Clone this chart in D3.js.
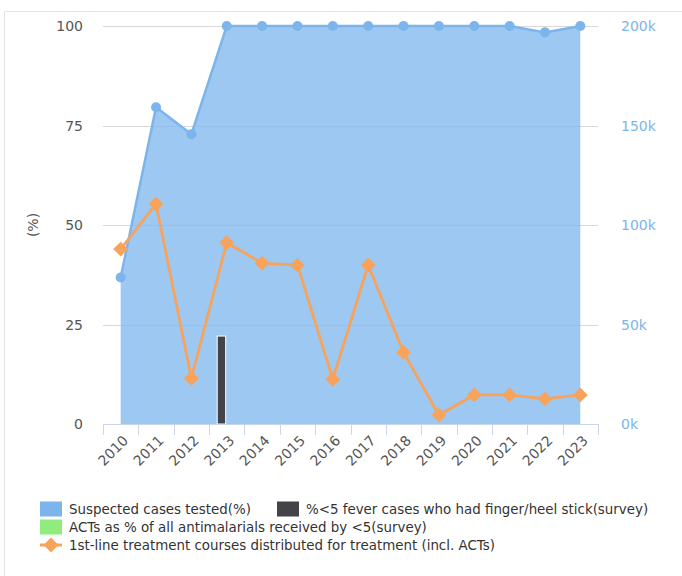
<!DOCTYPE html>
<html><head><meta charset="utf-8">
<script src="https://cdn.jsdelivr.net/npm/d3@7/dist/d3.min.js"></script>
<style>body{margin:0;background:#fff;} text{font-family:"DejaVu Sans",sans-serif;}</style>
</head><body>
<svg id="c" width="682" height="576"></svg>
<script>
const years = ["2010","2011","2012","2013","2014","2015","2016","2017","2018","2019","2020","2021","2022","2023"];
const suspectedTested = [36.8,79.6,72.8,100,100,100,100,100,100,100,100,100,98.4,100];
const fingerStick = [null,null,null,22.1,null,null,null,null,null,null,null,null,null,null];
const actsPct = [null,null,null,null,null,null,null,null,null,null,null,null,null,null];
const courses = [87900,110600,23000,91100,80800,79800,22500,79900,36000,4500,14600,14600,12600,14600];
const leftTicks = [0,25,50,75,100];
const rightTicks = [0,50000,100000,150000,200000];
const legendLabels = ["Suspected cases tested(%)","%<5 fever cases who had finger/heel stick(survey)","ACTs as % of all antimalarials received by <5(survey)","1st-line treatment courses distributed for treatment (incl. ACTs)"];

const svg = d3.select("#c");
const L=103,R=598,T=26,B=424;
const x = d3.scaleBand().domain(years).range([L,R]);
const bw = x.bandwidth();
const cx = d => x(d)+bw/2;
const yL = d3.scaleLinear().domain([0,100]).range([B,T]);
const yR = d3.scaleLinear().domain([0,200000]).range([B,T]);

// frame
svg.append("line").attr("x1",4.5).attr("x2",682).attr("y1",11.5).attr("y2",11.5).attr("stroke","#e3e3e3");
svg.append("line").attr("x1",4.5).attr("x2",4.5).attr("y1",11.5).attr("y2",576).attr("stroke","#e3e3e3");

// grid
svg.append("g").selectAll("line").data(leftTicks.filter(t=>t>0)).join("line")
  .attr("x1",L).attr("x2",R).attr("y1",d=>Math.round(yL(d))+0.5).attr("y2",d=>Math.round(yL(d))+0.5)
  .attr("stroke","#d9d9d9").attr("stroke-width",1);

// left labels
svg.append("g").selectAll("text").data(leftTicks).join("text")
  .attr("x",83).attr("y",d=>yL(d)+5).attr("text-anchor","end")
  .attr("font-size",14).attr("fill","#555").text(d=>d);
svg.append("text").attr("transform","translate(38,225) rotate(-90)").attr("text-anchor","middle")
  .attr("font-size",14).attr("fill","#555").text("(%)");
// right labels
svg.append("g").selectAll("text").data(rightTicks).join("text")
  .attr("x",621).attr("y",d=>yR(d)+5).attr("text-anchor","start")
  .attr("font-size",14).attr("fill","#7cb5ec").text(d=>(d/1000)+"k");

// area
const pts = years.map((y,i)=>({y, v:suspectedTested[i]}));
svg.append("path").datum(pts)
  .attr("d", d3.area().x(d=>cx(d.y)).y0(B).y1(d=>yL(d.v)))
  .attr("fill","#7cb5ec").attr("fill-opacity",0.75);
svg.append("path").datum(pts)
  .attr("d", d3.line().x(d=>cx(d.y)).y(d=>yL(d.v)))
  .attr("fill","none").attr("stroke","#7cb5ec").attr("stroke-width",2.5);
svg.append("g").selectAll("circle").data(pts).join("circle")
  .attr("cx",d=>cx(d.y)).attr("cy",d=>yL(d.v)).attr("r",5).attr("fill","#7cb5ec");

// columns
const colSeries = ["finger","acts"];
const x1 = d3.scaleBand().domain(colSeries).range([bw*0.2,bw*0.8]);
const colData = [];
years.forEach((y,i)=>{
  if(fingerStick[i]!=null) colData.push({y,s:"finger",v:fingerStick[i],c:"#434348"});
  if(actsPct[i]!=null) colData.push({y,s:"acts",v:actsPct[i],c:"#90ed7d"});
});
svg.append("g").selectAll("rect").data(colData).join("rect")
  .attr("x",d=>x(d.y)+x1(d.s)+x1.bandwidth()*0.1).attr("width",x1.bandwidth()*0.8)
  .attr("y",d=>yL(d.v)).attr("height",d=>B-yL(d.v))
  .attr("fill",d=>d.c).attr("stroke","#fff").attr("stroke-width",1);

// x axis
svg.append("line").attr("x1",L).attr("x2",R).attr("y1",B+0.5).attr("y2",B+0.5).attr("stroke","#ccd6eb");
const tickXs = years.map(y=>x(y)).concat([R]);
svg.append("g").selectAll("line").data(tickXs).join("line")
  .attr("x1",d=>Math.round(d)+0.5).attr("x2",d=>Math.round(d)+0.5).attr("y1",B).attr("y2",B+11).attr("stroke","#ccd6eb");
svg.append("g").selectAll("text").data(years).join("text")
  .attr("transform",d=>`translate(${cx(d)+5},${B+14}) rotate(-45)`)
  .attr("text-anchor","end").attr("dy","0.35em").attr("font-size",14).attr("fill","#555").text(d=>d);

// orange line
const op = years.map((y,i)=>({y,v:courses[i]}));
svg.append("path").datum(op)
  .attr("d", d3.line().x(d=>cx(d.y)).y(d=>yR(d.v)))
  .attr("fill","none").attr("stroke","#f7a35c").attr("stroke-width",2.8);
const diamond = d3.symbol().type(d3.symbolSquare).size(110);
svg.append("g").selectAll("path").data(op).join("path")
  .attr("d",diamond).attr("transform",d=>`translate(${cx(d.y)},${yR(d.v)}) rotate(45)`).attr("fill","#f7a35c");

// legend
const lg = svg.append("g");
const items = [
  {t:legendLabels[0],c:"#7cb5ec",x:40,y:509,type:"rect"},
  {t:legendLabels[1],c:"#434348",x:277,y:509,type:"rect"},
  {t:legendLabels[2],c:"#90ed7d",x:40,y:527,type:"rect"},
  {t:legendLabels[3],c:"#f7a35c",x:40,y:545,type:"line"}
];
items.forEach(it=>{
  if(it.type==="rect"){
    lg.append("rect").attr("x",it.x).attr("y",it.y-7.5).attr("width",22).attr("height",15).attr("fill",it.c);
  } else {
    lg.append("line").attr("x1",it.x).attr("x2",it.x+22).attr("y1",it.y).attr("y2",it.y).attr("stroke",it.c).attr("stroke-width",3);
    lg.append("path").attr("d",diamond).attr("transform",`translate(${it.x+11},${it.y}) rotate(45)`).attr("fill",it.c);
  }
  lg.append("text").attr("x",it.x+29).attr("y",it.y+5).attr("font-size",13.4).attr("fill","#333").text(it.t);
});
</script>
</body></html>
